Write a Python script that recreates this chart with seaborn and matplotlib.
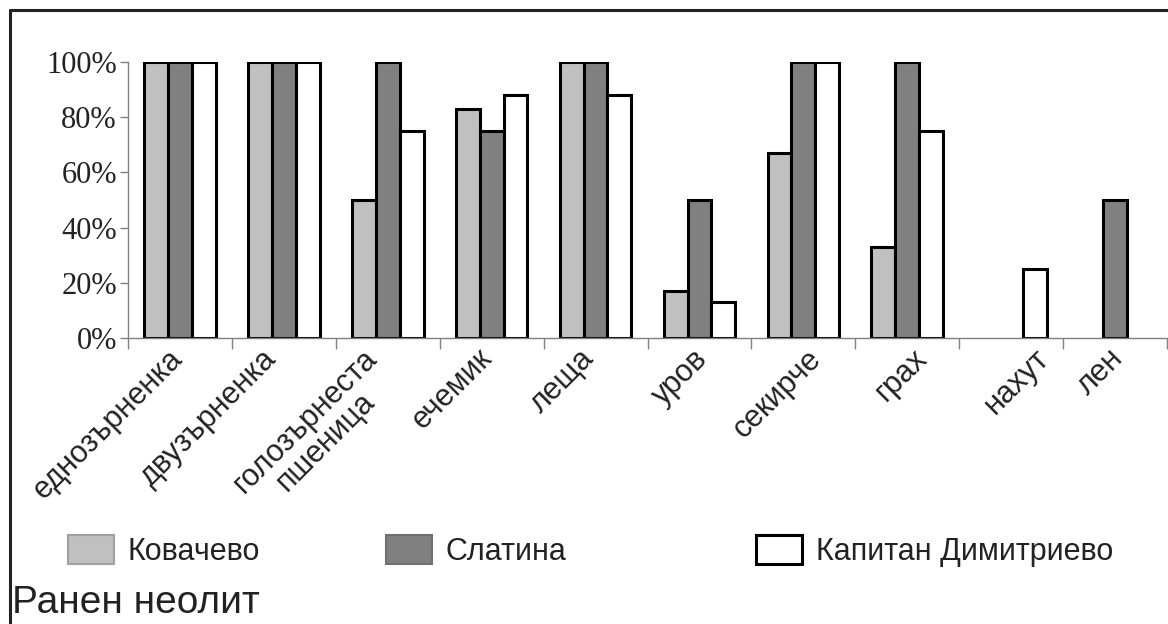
import numpy as np
import pandas as pd
import matplotlib
matplotlib.use('Agg')
import matplotlib.pyplot as plt
import matplotlib.transforms as mtransforms
import seaborn as sns
from matplotlib.patches import Patch
from matplotlib.lines import Line2D

# data (share of samples, %); nan = no bar drawn
crops = ['еднозърненка', 'двузърненка', 'голозърнеста\nпшеница', 'ечемик', 'леща',
         'уров', 'секирче', 'грах', 'нахут', 'лен']
kovachevo = [100, 100, 50, 83, 100, 17, 67, 33, np.nan, np.nan]
slatina = [100, 100, 100, 75, 100, 50, 100, 100, np.nan, 50]
kapitan = [100, 100, 75, 88, 88, 13, 100, 75, 25, np.nan]
sites = ['Ковачево', 'Слатина', 'Капитан Димитриево']
colors = ['#c0c0c0', '#808080', '#ffffff']
yticks = [0, 20, 40, 60, 80, 100]

df = pd.DataFrame({
    'crop': crops * 3,
    'site': np.repeat(sites, len(crops)),
    'share': kovachevo + slatina + kapitan,
})

sns.set_style('white')
plt.rcParams['font.family'] = ['Liberation Sans', 'DejaVu Sans']

fig = plt.figure(figsize=(11.68, 6.24), dpi=100)
ax = fig.add_axes([128 / 1168, 1 - 338 / 624, 1039 / 1168, 276 / 624])

sns.barplot(data=df, x='crop', y='share', hue='site', order=crops, hue_order=sites,
            palette=dict(zip(sites, colors)), saturation=1, width=0.69,
            edgecolor='black', linewidth=2.2, legend=False, ax=ax)

ax.set_xlim(-0.5, len(crops) - 0.5)
ax.set_ylim(0, 100)
ax.set_xlabel('')
ax.set_ylabel('')
for s in ['top', 'right']:
    ax.spines[s].set_visible(False)
for s in ['left', 'bottom']:
    ax.spines[s].set_color('#808080')
    ax.spines[s].set_linewidth(1)

# y axis
ax.set_yticks(yticks)
ax.set_yticklabels([f'{v}%' for v in yticks], family=['Liberation Serif', 'DejaVu Serif'],
                   fontsize=22, color='#222222')
ax.tick_params(axis='y', left=True, length=6, width=1, color='#808080', pad=2)

# x axis: ticks between groups, labels rotated
ax.set_xticks(np.arange(-0.5, len(crops), 1), minor=True)
ax.tick_params(axis='x', which='minor', bottom=True, length=8, width=1, color='#808080')
ax.tick_params(axis='x', which='major', length=0, pad=4)
ax.set_xticks(range(len(crops)))
ax.set_xticklabels(crops, rotation=45, ha='right', va='top', rotation_mode='anchor',
                   multialignment='center', fontsize=22, color='#222222', linespacing=0.95)
# horizontal nudge of each label (pixels), as placed in the original
label_dx = [-12, -22, -26, -15, -17, -7, 3, 5, 23, -7]
for lab, dx in zip(ax.get_xticklabels(), label_dx):
    lab.set_transform(lab.get_transform() +
                      mtransforms.ScaledTranslation(dx / 100, 0, fig.dpi_scale_trans))

# legend: three entries placed separately
leg_x = [68, 386, 756]
edges = [('#a0a0a0', 1.5), ('#707070', 1.5), ('black', 2.2)]
for site, col, (ec, lw), x in zip(sites, colors, edges, leg_x):
    h = Patch(facecolor=col, edgecolor=ec, linewidth=lw)
    leg = fig.legend(handles=[h], labels=[site], loc='center left',
                     bbox_to_anchor=(x / 1168, 1 - 551 / 624), frameon=False, fontsize=22,
                     handlelength=1.5, handleheight=1.05, handletextpad=0.45,
                     borderpad=0, borderaxespad=0)
    for t in leg.get_texts():
        t.set_color('#222222')

fig.text(12 / 1168, 1 - 613 / 624, 'Ранен неолит', fontsize=28, ha='left', va='baseline',
         color='#222222')

# frame lines (left and top)
fig.add_artist(Line2D([10 / 1168, 10 / 1168], [0, 1 - 10 / 624], transform=fig.transFigure,
                      color='#222222', lw=2.2))
fig.add_artist(Line2D([10 / 1168, 1], [1 - 10 / 624, 1 - 10 / 624], transform=fig.transFigure,
                      color='#222222', lw=2.2))

fig.savefig('out.png', dpi=100)
